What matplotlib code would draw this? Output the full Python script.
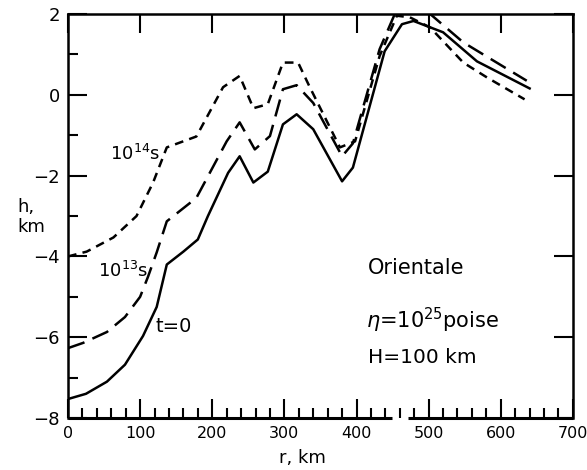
import matplotlib.pyplot as plt
from matplotlib.ticker import MultipleLocator

# t = 0 (solid)
r_t0 = [0, 25, 54, 79, 104, 123, 137, 160, 180, 194, 222, 238, 257, 277, 298, 317,
        340, 380, 395, 439, 463, 479, 520, 567, 640]
h_t0 = [-7.53, -7.4, -7.1, -6.68, -5.97, -5.25, -4.2, -3.88, -3.58, -3.0, -1.93, -1.52,
        -2.17, -1.9, -0.73, -0.48, -0.85, -2.14, -1.8, 1.08, 1.75, 1.83, 1.55, 0.83, 0.16]

# 10^13 s (long dash)
r_13 = [0, 21, 54, 79, 100, 111, 123, 137, 178, 220, 238, 259, 280, 298, 317,
        340, 380, 395, 432, 453, 475, 499, 548, 636]
h_13 = [-6.27, -6.14, -5.87, -5.5, -5.0, -4.5, -3.9, -3.13, -2.55, -1.15, -0.68, -1.35,
        -1.02, 0.14, 0.24, -0.2, -1.52, -1.2, 1.13, 2.0, 2.15, 2.05, 1.3, 0.35]

# 10^14 s (short dash)
r_14 = [0, 26, 63, 95, 118, 137, 178, 215, 238, 257, 277, 298, 319, 335, 377, 398,
        432, 456, 474, 502, 548, 581, 633]
h_14 = [-4.0, -3.88, -3.53, -3.0, -2.17, -1.3, -1.03, 0.19, 0.47, -0.33, -0.23, 0.8,
        0.8, 0.2, -1.3, -1.15, 0.96, 1.96, 1.92, 1.67, 0.8, 0.43, -0.11]

fig = plt.figure(figsize=(5.87, 4.70), dpi=100)
ax = fig.add_axes([0.1158, 0.1106, 0.8602, 0.8594])

ax.plot(r_t0, h_t0, color='black', lw=1.8)
ax.plot(r_13, h_13, color='black', lw=1.8, dashes=(7, 3.5))
ax.plot(r_14, h_14, color='black', lw=1.8, dashes=(3.5, 2.5))

ax.set_xlim(0, 700)
ax.set_ylim(-8, 2)
ax.xaxis.set_major_locator(MultipleLocator(100))
ax.xaxis.set_minor_locator(MultipleLocator(20))
ax.yaxis.set_major_locator(MultipleLocator(2))
ax.yaxis.set_minor_locator(MultipleLocator(1))

ax.tick_params(which='both', direction='in', width=1.5)
ax.tick_params(which='major', length=14, top=True, right=True, pad=6)
ax.tick_params(which='minor', length=7, top=False, right=False)
ax.tick_params(axis='y', labelsize=13)
ax.tick_params(axis='x', labelsize=11.5)

for s in ['left', 'top', 'right']:
    ax.spines[s].set_linewidth(1.8)
ax.spines['bottom'].set_visible(False)
# broken bottom axis
ax.plot([0, 449], [-8, -8], color='black', lw=2.2, clip_on=False, solid_capstyle='butt')
ax.plot([471, 700], [-8, -8], color='black', lw=2.2, clip_on=False, solid_capstyle='butt')

ax.text(58, -1.6, r'10$^{14}$s', fontsize=13)
ax.text(42, -4.5, r'10$^{13}$s', fontsize=13)
ax.text(121, -5.87, 't=0', fontsize=14)
ax.text(416, -4.43, 'Orientale', fontsize=15)
ax.text(413, -5.77, r'$\eta$=10$^{25}$poise', fontsize=15)
ax.text(416, -6.64, 'H=100 km', fontsize=14.5)

fig.text(17 / 587, 1 - 217 / 470, 'h,\nkm', fontsize=13, ha='left', va='center',
         linespacing=1.15)
fig.text(302 / 587, 1 - 458 / 470, 'r, km', fontsize=13, ha='center', va='center')

fig.savefig('out.png', dpi=100)
